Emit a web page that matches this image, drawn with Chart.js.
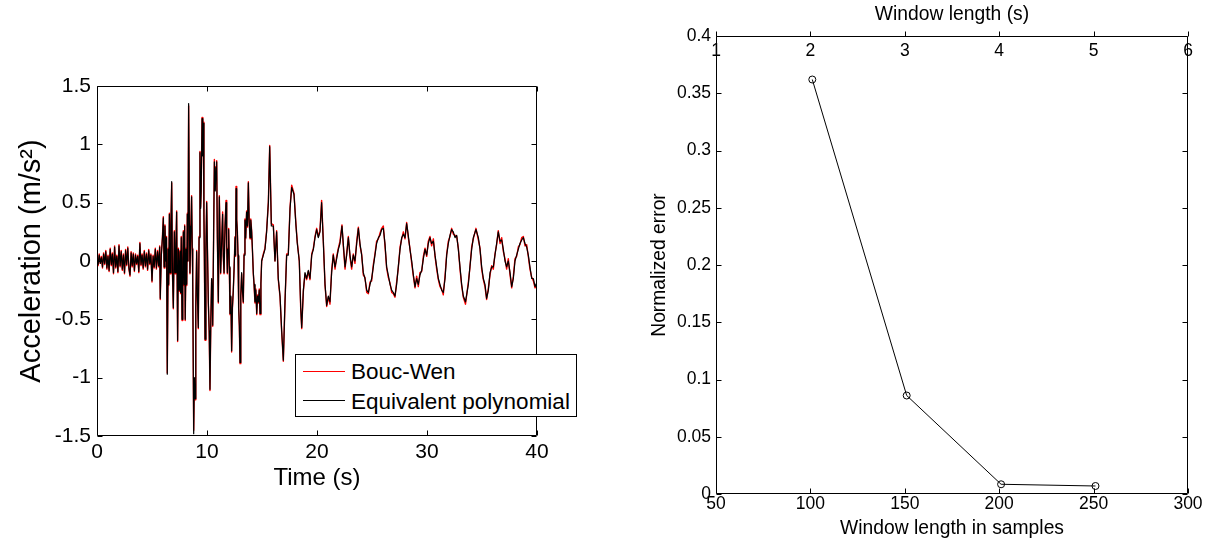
<!DOCTYPE html>
<html><head><meta charset="utf-8">
<script src="https://cdn.jsdelivr.net/npm/chart.js@4/dist/chart.umd.min.js"></script>
<style>
html,body{margin:0;padding:0;background:#fff;}
#wrap{position:relative;width:1206px;height:544px;overflow:hidden;background:#fff;}
canvas{position:absolute;top:0;}
#c1{left:0;} #c2{left:606px;}
#legend{position:absolute;left:295px;top:354px;width:280px;height:61px;border:1px solid #000;background:#fff;font-family:"Liberation Sans",Arial,Helvetica,sans-serif;font-size:22.5px;color:#000;}
.row{position:absolute;left:0;height:29px;line-height:29px;white-space:nowrap;}
.sw{display:inline-block;width:42px;height:0;border-top:1px solid;vertical-align:middle;margin-left:7px;margin-right:6px;position:relative;top:-2px;}
</style></head><body>
<div id="wrap">
<canvas id="c1" width="600" height="544"></canvas>
<canvas id="c2" width="600" height="544"></canvas>
<div id="legend"></div>
</div>
<script>
// ---------- Left chart data: acceleration time history ----------
const time = [
0.0,0.1,0.2,0.3,0.4,0.5,0.6,0.7,0.8,0.9,
1.0,1.1,1.2,1.3,1.4,1.5,1.6,1.7,1.8,1.9,
2.0,2.1,2.2,2.3,2.4,2.5,2.6,2.7,2.8,2.9,
3.0,3.1,3.2,3.3,3.4,3.5,3.6,3.7,3.8,3.9,
4.0,4.1,4.2,4.3,4.4,4.5,4.6,4.7,4.8,4.9,
5.0,5.1,5.2,5.3,5.4,5.5,5.6,5.7,
5.75,5.85,5.95,6.03,6.10,6.18,6.25,6.32,6.39,6.47,
6.52,6.58,6.64,6.72,6.79,6.86,6.94,7.03,7.10,7.17,
7.24,7.33,7.40,7.48,7.55,7.60,7.66,7.73,7.80,7.85,
7.92,7.97,8.02,8.10,8.16,8.21,8.27,8.33,8.40,8.45,
8.52,8.60,8.66,8.70,8.79,8.85,8.91,8.98,9.06,9.13,
9.21,9.28,9.36,9.42,9.47,9.55,9.62,9.67,9.72,9.76,
9.82,9.90,9.97,10.04,10.12,10.20,10.27,10.35,10.42,10.48,
10.52,10.60,10.67,10.75,10.82,10.88,10.94,11.03,11.12,
11.24,11.33,11.42,11.48,11.55,11.64,11.73,11.79,11.85,11.91,
11.97,12.03,12.09,12.17,12.24,12.31,12.39,12.47,12.55,12.60,
12.64,12.70,12.76,12.82,12.88,12.94,13.00,13.07,13.15,13.22,
13.30,13.37,13.45,13.52,13.60,13.68,13.76,13.83,13.91,13.98,
14.06,14.13,14.21,14.28,14.36,14.44,14.52,14.60,14.67,14.75,
14.82,14.90,14.97,
15.12,15.27,15.42,15.58,15.70,15.85,16.03,16.18,16.33,16.48,
16.64,16.79,16.94,17.09,17.24,17.39,17.55,17.70,17.91,18.09,
18.21,18.39,18.52,18.61,18.76,18.91,19.06,19.21,19.36,19.52,
19.67,19.82,19.97,20.12,20.27,20.42,20.58,20.73,20.88,21.03,
21.18,21.33,21.48,21.64,21.79,21.94,22.09,22.27,22.39,22.55,
22.70,22.85,23.00,23.15,23.30,23.45,23.61,23.76,23.91,24.06,
24.21,24.36,24.52,24.67,24.82,24.97,25.12,25.27,25.42,25.58,
25.73,25.88,26.03,26.18,26.33,26.48,26.64,26.79,26.94,27.09,
27.24,27.39,27.55,27.70,27.85,28.00,28.15,28.30,28.45,28.61,
28.76,28.91,29.06,29.21,29.36,29.52,29.67,29.82,29.97,30.12,
30.27,30.42,30.58,30.73,30.88,31.03,31.18,31.33,31.48,31.64,
31.79,31.94,32.09,32.24,32.39,32.55,32.70,32.85,33.00,33.15,
33.30,33.50,33.76,33.90,34.06,34.21,34.45,34.67,34.82,34.97,
35.12,35.27,35.42,35.58,35.73,35.88,36.03,36.18,36.33,36.48,
36.64,36.79,36.94,37.09,37.24,37.39,37.55,37.70,37.85,38.00,
38.15,38.30,38.45,38.61,38.76,38.91,39.06,39.21,39.36,39.52,
39.67,39.82,40.00
];
const equivalentPoly = [
0.02,-0.03,0.05,-0.02,0.03,-0.05,0.06,-0.02,0.08,-0.06,
0.04,-0.08,0.10,-0.03,0.06,-0.10,0.12,-0.05,0.04,-0.09,
0.13,-0.04,0.08,-0.07,0.05,-0.10,0.09,-0.03,0.11,-0.06,
-0.12,0.07,-0.04,0.06,-0.08,0.05,-0.02,0.04,-0.09,0.15,
-0.03,0.05,-0.06,0.08,-0.04,0.06,-0.07,0.09,-0.02,0.05,
-0.17,0.04,-0.05,0.10,-0.06,0.08,-0.04,0.12,
-0.32,0.05,0.20,0.37,-0.05,0.30,0.00,0.20,-0.97,0.10,
-0.20,0.40,-0.10,0.30,0.68,-0.10,-0.40,0.25,-0.10,0.10,
0.42,-0.68,0.10,-0.25,0.08,-0.27,0.20,-0.50,0.00,0.25,
-0.20,0.30,-0.50,0.10,-0.20,0.40,0.00,1.35,0.30,-0.10,
0.20,0.55,0.10,-0.12,-1.48,-1.00,-1.18,-0.40,0.08,-0.30,
-0.57,0.20,0.93,0.45,0.60,1.22,0.90,1.18,0.40,0.03,
-0.67,0.10,0.50,0.10,-0.35,-0.60,-1.10,-0.50,-0.15,-0.30,
-0.55,0.20,0.85,0.60,0.80,0.85,0.20,-0.35,0.55,
-0.10,0.15,0.40,0.05,-0.10,0.30,0.50,0.15,-0.10,0.10,
0.27,-0.05,-0.45,-0.30,-0.77,-0.40,-0.25,-0.05,0.20,0.05,
0.62,0.35,0.25,0.05,-0.40,-0.55,-0.87,-0.30,-0.10,-0.25,
-0.35,0.05,0.35,0.20,0.42,0.30,0.67,0.35,0.20,0.35,
0.25,0.10,-0.10,-0.20,-0.35,-0.25,-0.45,-0.30,-0.35,-0.25,
-0.45,-0.20,0.00,
0.05,0.10,0.25,0.50,0.98,0.30,0.30,0.00,0.25,-0.15,
-0.30,-0.60,-0.85,-0.35,0.05,0.05,0.45,0.63,0.57,0.30,
0.15,0.00,-0.40,-0.57,-0.25,-0.10,-0.15,-0.08,-0.15,0.05,
0.10,0.20,0.27,0.20,0.25,0.50,0.15,-0.20,-0.38,-0.30,
-0.35,-0.10,0.05,-0.05,0.02,0.10,0.15,0.30,0.15,-0.05,
0.05,0.20,0.05,-0.05,0.05,0.00,0.15,0.28,0.15,0.05,
-0.10,-0.15,-0.25,-0.27,-0.20,-0.15,-0.05,0.05,0.15,0.20,
0.22,0.27,0.28,0.15,-0.05,-0.12,-0.20,-0.25,-0.27,-0.30,
-0.20,-0.05,0.10,0.20,0.23,0.20,0.32,0.22,0.10,0.00,
-0.12,-0.22,-0.15,-0.20,-0.12,-0.08,0.02,0.10,0.05,0.15,
0.20,0.15,0.17,0.05,-0.05,-0.15,-0.20,-0.25,-0.27,-0.15,
0.05,0.15,0.22,0.27,0.25,0.20,0.22,0.10,-0.05,-0.20,
-0.30,-0.35,-0.20,-0.05,0.10,0.20,0.27,0.20,0.10,-0.05,
-0.15,-0.20,-0.32,-0.25,-0.10,-0.05,-0.05,0.05,0.15,0.25,
0.17,0.18,0.10,0.00,-0.05,0.00,-0.10,-0.22,-0.15,0.00,
0.05,0.10,0.15,0.18,0.20,0.15,0.12,0.05,-0.05,-0.15,
-0.15,-0.22,-0.18
];
const boucWen = [
0.03,-0.04,0.06,-0.02,0.04,-0.06,0.07,-0.03,0.09,-0.07,
0.05,-0.09,0.11,-0.04,0.07,-0.11,0.13,-0.06,0.05,-0.10,
0.14,-0.05,0.09,-0.08,0.06,-0.11,0.10,-0.04,0.12,-0.07,
-0.13,0.08,-0.05,0.07,-0.09,0.06,-0.03,0.05,-0.10,0.16,
-0.04,0.06,-0.07,0.09,-0.05,0.07,-0.08,0.10,-0.03,0.06,
-0.18,0.05,-0.06,0.11,-0.07,0.09,-0.05,0.13,
-0.33,0.06,0.21,0.38,-0.06,0.31,0.00,0.21,-0.96,0.11,
-0.21,0.41,-0.11,0.31,0.67,-0.11,-0.41,0.26,-0.11,0.11,
0.43,-0.69,0.11,-0.26,0.09,-0.28,0.21,-0.51,0.00,0.26,
-0.21,0.31,-0.51,0.11,-0.21,0.41,0.00,1.33,0.31,-0.11,
0.21,0.56,0.11,-0.13,-1.45,-1.02,-1.19,-0.41,0.09,-0.31,
-0.58,0.21,0.94,0.46,0.61,1.23,0.91,1.19,0.41,0.03,
-0.68,0.11,0.51,0.11,-0.36,-0.61,-1.11,-0.51,-0.16,-0.31,
-0.56,0.21,0.87,0.61,0.81,0.86,0.21,-0.36,0.56,
-0.11,0.16,0.42,0.04,-0.11,0.31,0.52,0.14,-0.11,0.11,
0.28,-0.06,-0.46,-0.31,-0.78,-0.41,-0.26,-0.04,0.21,0.04,
0.64,0.36,0.26,0.04,-0.41,-0.56,-0.88,-0.31,-0.11,-0.26,
-0.36,0.06,0.36,0.19,0.43,0.29,0.68,0.36,0.19,0.36,
0.26,0.09,-0.11,-0.21,-0.36,-0.24,-0.46,-0.29,-0.36,-0.24,
-0.46,-0.19,0.00,
0.06,0.11,0.26,0.51,0.99,0.32,0.31,0.00,0.26,-0.16,
-0.31,-0.61,-0.86,-0.36,0.06,0.06,0.46,0.65,0.58,0.31,
0.16,0.00,-0.41,-0.58,-0.26,-0.11,-0.16,-0.09,-0.16,0.06,
0.11,0.21,0.28,0.21,0.26,0.52,0.16,-0.21,-0.39,-0.31,
-0.37,-0.08,0.06,-0.07,0.04,0.11,0.17,0.31,0.13,-0.07,
0.07,0.21,0.03,-0.07,0.06,-0.02,0.17,0.29,0.13,0.06,
-0.12,-0.14,-0.27,-0.28,-0.18,-0.17,-0.03,0.06,0.17,0.19,
0.24,0.28,0.30,0.13,-0.06,-0.14,-0.19,-0.27,-0.28,-0.31,
-0.18,-0.06,0.12,0.19,0.25,0.19,0.33,0.20,0.11,-0.02,
-0.13,-0.23,-0.13,-0.22,-0.10,-0.09,0.04,0.11,0.04,0.17,
0.21,0.13,0.19,0.04,-0.07,-0.16,-0.22,-0.24,-0.29,-0.13,
0.06,0.17,0.21,0.28,0.23,0.22,0.21,0.11,-0.07,-0.21,
-0.31,-0.37,-0.18,-0.06,0.12,0.19,0.28,0.18,0.11,-0.07,
-0.16,-0.22,-0.33,-0.23,-0.12,-0.04,-0.07,0.06,0.14,0.26,
0.15,0.20,0.08,0.02,-0.07,0.02,-0.12,-0.23,-0.13,0.02,
0.04,0.12,0.14,0.20,0.21,0.13,0.14,0.04,-0.07,-0.14,
-0.17,-0.23,-0.20
];
const timeTicks = [0, 10, 20, 30, 40];
const accelTicks = [-1.5, -1, -0.5, 0, 0.5, 1, 1.5];

// ---------- Right chart data: normalized error ----------
const windowSamples = [101, 151, 201, 251];
const normalizedError = [0.362, 0.086, 0.0085, 0.007];
const sampleTicks = [50, 100, 150, 200, 250, 300];
const secondsTicks = [1, 2, 3, 4, 5, 6];
const errorTicks = [0, 0.05, 0.1, 0.15, 0.2, 0.25, 0.3, 0.35, 0.4];

const FONT = '"Liberation Sans", Arial, Helvetica, sans-serif';

const boxTicks = {
  id: 'boxTicks',
  afterDraw(chart, args, opts) {
    const ctx = chart.ctx;
    const a = chart.chartArea;
    const L = Math.round(a.left) + 0.5, R = Math.round(a.right) - 0.5;
    const T = Math.round(a.top) + 0.5, B = Math.round(a.bottom) - 0.5;
    const len = opts.len || 5;
    ctx.save();
    ctx.strokeStyle = '#000';
    ctx.lineWidth = 1;
    ctx.beginPath();
    ctx.rect(L, T, R - L, B - T);
    const xs = chart.scales.x, ys = chart.scales.y;
    xs.ticks.forEach(t => {
      const p = Math.round(xs.getPixelForValue(t.value)) + 0.5;
      ctx.moveTo(p, B); ctx.lineTo(p, B - len);
      if (opts.mirrorTop) { ctx.moveTo(p, T); ctx.lineTo(p, T + len); }
    });
    if (opts.topScale && chart.scales[opts.topScale]) {
      const ts = chart.scales[opts.topScale];
      ts.ticks.forEach(t => {
        const p = Math.round(ts.getPixelForValue(t.value)) + 0.5;
        ctx.moveTo(p, T); ctx.lineTo(p, T - len);
      });
    }
    ys.ticks.forEach(t => {
      const p = Math.round(ys.getPixelForValue(t.value)) + 0.5;
      ctx.moveTo(L, p); ctx.lineTo(L + len, p);
      ctx.moveTo(R, p); ctx.lineTo(R - len, p);
    });
    ctx.stroke();
    ctx.restore();
  }
};

function fixedTicks(arr) { return s => { s.ticks = arr.map(v => ({ value: v })); }; }
const noGrid = { display: false, drawTicks: false };
const noBorder = { display: false };

// ---------- Left chart ----------
const chart1 = new Chart(document.getElementById('c1'), {
  type: 'line',
  data: {
    datasets: [
      { label: 'Bouc-Wen', data: time.map((t, i) => ({ x: t, y: boucWen[i] })),
        borderColor: '#ff0000', borderWidth: 1.4, pointRadius: 0, tension: 0,
        borderJoinStyle: 'round', order: 1 },
      { label: 'Equivalent polynomial', data: time.map((t, i) => ({ x: t, y: equivalentPoly[i] })),
        borderColor: '#000000', borderWidth: 1.2, pointRadius: 0, tension: 0,
        borderJoinStyle: 'round', order: 0 }
    ]
  },
  options: {
    responsive: false, animation: false,
    layout: { padding: { top: 86, right: 63, left: 0, bottom: 0 } },
    plugins: { legend: { display: false }, tooltip: { enabled: false }, boxTicks: { len: 5, mirrorTop: true } },
    scales: {
      x: {
        type: 'linear', min: 0, max: 40,
        afterBuildTicks: fixedTicks(timeTicks),
        afterFit: s => { s.height = 108; },
        grid: noGrid, border: noBorder,
        ticks: { padding: 4, color: '#000', autoSkip: false, maxRotation: 0,
                 font: { family: FONT, size: 21 }, callback: v => String(v) },
        title: { display: true, text: 'Time (s)', color: '#000',
                 font: { family: FONT, size: 24 }, padding: { top: 0, bottom: 51 } }
      },
      y: {
        type: 'linear', min: -1.5, max: 1.5,
        afterBuildTicks: fixedTicks(accelTicks),
        afterFit: s => { s.width = 97; },
        grid: noGrid, border: noBorder,
        ticks: { padding: 6, color: '#000', autoSkip: false,
                 font: { family: FONT, size: 21 }, callback: v => String(v) },
        title: { display: true, text: 'Acceleration (m/s²)', color: '#000',
                 font: { family: FONT, size: 29 }, padding: { top: 15, bottom: 0 } }
      }
    }
  },
  plugins: [boxTicks]
});

// HTML legend from the datasets
const legendEl = document.getElementById('legend');
chart1.data.datasets.forEach((ds, i) => {
  const row = document.createElement('div');
  row.className = 'row';
  row.style.top = (2 + i * 29.5) + 'px';
  const sw = document.createElement('span');
  sw.className = 'sw';
  sw.style.borderTopColor = ds.borderColor;
  row.appendChild(sw);
  row.appendChild(document.createTextNode(ds.label));
  legendEl.appendChild(row);
});

// ---------- Right chart ----------
new Chart(document.getElementById('c2'), {
  type: 'line',
  data: {
    datasets: [{
      label: 'Normalized error',
      data: windowSamples.map((x, i) => ({ x: x, y: normalizedError[i] })),
      borderColor: '#000', borderWidth: 1, tension: 0,
      pointRadius: 3.5, pointStyle: 'circle', pointBorderColor: '#000',
      pointBackgroundColor: 'rgba(0,0,0,0)', pointBorderWidth: 1,
      xAxisID: 'x', yAxisID: 'y'
    }]
  },
  options: {
    responsive: false, animation: false,
    layout: { padding: { top: 0, right: 18, left: 0, bottom: 0 } },
    plugins: { legend: { display: false }, tooltip: { enabled: false }, boxTicks: { len: 5, mirrorTop: false, topScale: 'x2' } },
    scales: {
      x: {
        type: 'linear', position: 'bottom', min: 50, max: 300,
        afterBuildTicks: fixedTicks(sampleTicks),
        afterFit: s => { s.height = 50; },
        grid: noGrid, border: noBorder,
        ticks: { padding: 0, color: '#000', autoSkip: false, maxRotation: 0,
                 font: { family: FONT, size: 17.5 }, callback: v => String(v) },
        title: { display: true, text: 'Window length in samples', color: '#000',
                 font: { family: FONT, size: 19.3 }, padding: { top: 0, bottom: 4 } }
      },
      x2: {
        type: 'linear', axis: 'x', position: 'top', min: 1, max: 6,
        afterBuildTicks: fixedTicks(secondsTicks),
        afterFit: s => { s.height = 36; },
        grid: noGrid, border: noBorder,
        ticks: { padding: 5, mirror: true, color: '#000', autoSkip: false, maxRotation: 0,
                 font: { family: FONT, size: 17.5 }, callback: v => String(v) },
        title: { display: true, text: 'Window length (s)', color: '#000',
                 font: { family: FONT, size: 19.3 }, padding: { top: 3.4, bottom: 0 } }
      },
      y: {
        type: 'linear', min: 0, max: 0.4,
        afterBuildTicks: fixedTicks(errorTicks),
        afterFit: s => { s.width = 110; },
        grid: noGrid, border: noBorder,
        ticks: { padding: 5, color: '#000', autoSkip: false,
                 font: { family: FONT, size: 17.5 }, callback: v => String(v) },
        title: { display: true, text: 'Normalized error', color: '#000',
                 font: { family: FONT, size: 19.3 }, padding: { top: 42, bottom: 0 } }
      }
    }
  },
  plugins: [boxTicks]
});
</script>
</body></html>
